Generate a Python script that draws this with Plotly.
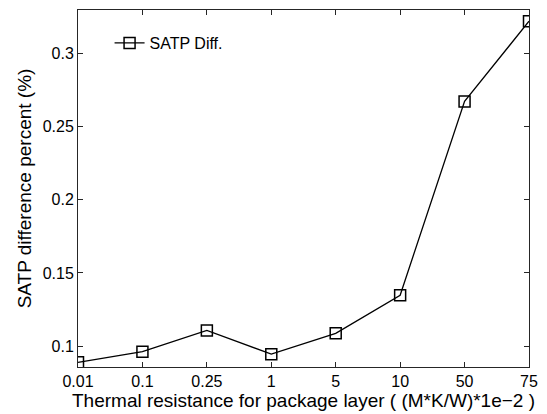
import plotly.graph_objects as go

categories = ["0.01", "0.1", "0.25", "1", "5", "10", "50", "75"]
satp_diff = [0.0889, 0.0962, 0.1107, 0.0945, 0.1087, 0.1348, 0.2673, 0.3221]
y_ticks = [0.1, 0.15, 0.2, 0.25, 0.3]
y_tick_labels = ["0.1", "0.15", "0.2", "0.25", "0.3"]

FONT = "Liberation Sans, Arial, Helvetica"

fig = go.Figure()
fig.add_trace(go.Scatter(
    x=list(range(len(categories))), y=satp_diff, mode="lines+markers",
    name="SATP Diff.",
    line=dict(color="black", width=1.3),
    marker=dict(symbol="square-open", size=11, color="black", line=dict(width=1.5)),
))

axis_common = dict(
    showline=True, linecolor="#262626", linewidth=1, mirror="ticks",
    ticks="inside", ticklen=5, tickcolor="#262626", showgrid=False, zeroline=False,
    tickfont=dict(family=FONT, size=16, color="black"),
)
fig.update_xaxes(
    range=[0, 7], tickmode="array", tickvals=list(range(len(categories))),
    ticktext=categories,
    title=dict(text="Thermal resistance for package layer ( (M*K/W)*1e\u22122 )",
               font=dict(family=FONT, size=19, color="black"), standoff=0),
    **axis_common,
)
fig.update_yaxes(
    range=[0.0857, 0.3298], tickmode="array", tickvals=y_ticks, ticktext=y_tick_labels,
    title=dict(text="SATP difference percent (%)",
               font=dict(family=FONT, size=19, color="black"), standoff=6),
    **axis_common,
)
fig.update_layout(
    width=547, height=414,
    margin=dict(l=78, r=16, t=9, b=47),
    paper_bgcolor="white", plot_bgcolor="white",
    showlegend=True,
    legend=dict(x=0.07, y=0.955, xanchor="left", yanchor="top",
                bgcolor="rgba(0,0,0,0)",
                font=dict(family=FONT, size=16, color="black")),
)
fig.write_html("out.html")
